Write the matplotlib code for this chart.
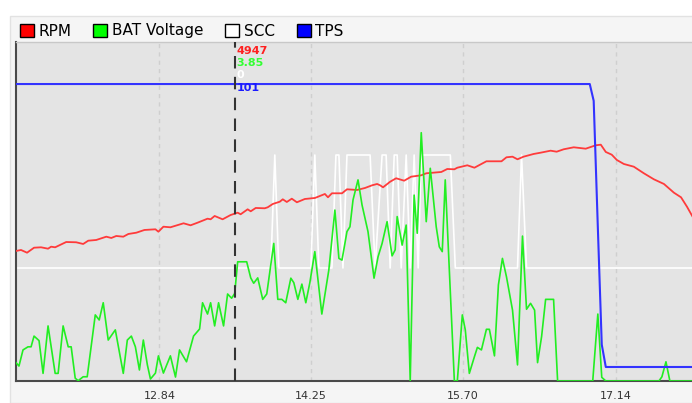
import matplotlib
matplotlib.use("Agg")
import matplotlib.pyplot as plt
from matplotlib.patches import Patch, Rectangle
from matplotlib import transforms

# ---- data (time in s) ----
rpm_t = [11.488, 11.535, 11.592, 11.658, 11.724, 11.790, 11.819, 11.857, 11.961, 12.055,
         12.121, 12.169, 12.244, 12.339, 12.386, 12.433, 12.499, 12.547, 12.622, 12.698,
         12.802, 12.830, 12.877, 12.943, 13.067, 13.133, 13.199, 13.293, 13.322, 13.360,
         13.435, 13.511, 13.577, 13.605, 13.671, 13.700, 13.747, 13.832, 13.860, 13.908,
         13.974, 14.002, 14.040, 14.087, 14.135, 14.210, 14.305, 14.352, 14.399, 14.428,
         14.465, 14.560, 14.607, 14.702, 14.777, 14.844, 14.891, 14.919, 14.947, 15.014,
         15.070, 15.146, 15.212, 15.307, 15.354, 15.496, 15.552, 15.619, 15.647, 15.741,
         15.808, 15.921, 16.063, 16.110, 16.167, 16.214, 16.271, 16.366, 16.432, 16.526,
         16.583, 16.649, 16.744, 16.857, 16.951, 16.999, 17.046, 17.102, 17.150, 17.216,
         17.310, 17.405, 17.499, 17.594, 17.688, 17.755, 17.811, 17.878]
rpm = [3835, 3865, 3785, 3932, 3944, 3903, 3962, 3944, 4100, 4092,
       4042, 4139, 4160, 4257, 4219, 4278, 4257, 4337, 4375, 4455,
       4475, 4404, 4552, 4534, 4652, 4593, 4670, 4788, 4770, 4868,
       4770, 4897, 4965, 4918, 5065, 5006, 5104, 5095, 5124, 5222,
       5289, 5360, 5281, 5378, 5272, 5369, 5399, 5458, 5517, 5419,
       5537, 5537, 5655, 5635, 5694, 5773, 5812, 5773, 5714, 5879,
       5980, 5909, 6027, 6068, 6127, 6166, 6254, 6245, 6292, 6363,
       6292, 6481, 6481, 6599, 6617, 6540, 6617, 6697, 6735, 6794,
       6764, 6835, 6894, 6853, 6953, 6971, 6756, 6676, 6520, 6402,
       6322, 6127, 5950, 5812, 5555, 5419, 5142, 4770]

bat_t = [11.488, 11.516, 11.554, 11.601, 11.630, 11.658, 11.705, 11.743, 11.790, 11.857,
         11.885, 11.932, 11.980, 12.008, 12.046, 12.074, 12.121, 12.159, 12.188, 12.235,
         12.272, 12.310, 12.357, 12.424, 12.499, 12.537, 12.575, 12.613, 12.651, 12.688,
         12.726, 12.755, 12.802, 12.830, 12.877, 12.943, 12.991, 13.029, 13.095, 13.161,
         13.218, 13.246, 13.293, 13.322, 13.360, 13.397, 13.444, 13.482, 13.520, 13.549,
         13.577, 13.662, 13.700, 13.728, 13.766, 13.813, 13.851, 13.917, 13.955, 13.993,
         14.030, 14.078, 14.106, 14.144, 14.182, 14.219, 14.257, 14.304, 14.370, 14.436,
         14.493, 14.531, 14.560, 14.607, 14.635, 14.664, 14.711, 14.749, 14.805, 14.862,
         14.900, 14.938, 14.985, 15.032, 15.061, 15.080, 15.127, 15.165, 15.203, 15.240,
         15.269, 15.307, 15.354, 15.392, 15.448, 15.477, 15.505, 15.533, 15.619, 15.647,
         15.694, 15.722, 15.760, 15.808, 15.836, 15.874, 15.921, 15.949, 15.997, 16.034,
         16.072, 16.110, 16.167, 16.214, 16.261, 16.299, 16.337, 16.375, 16.403, 16.441,
         16.479, 16.554, 16.592, 16.923, 16.971, 17.008, 17.046, 17.547, 17.575, 17.613,
         17.650, 17.878]
bat = [0.65, 0.53, 1.10, 1.21, 1.21, 1.59, 1.43, 0.27, 1.95, 0.27,
       0.27, 1.95, 1.21, 1.21, 0.10, 0.01, 0.15, 0.15, 0.98, 2.34,
       2.16, 2.77, 1.45, 1.81, 0.27, 1.45, 1.59, 1.21, 0.39, 1.45,
       0.57, 0.07, 0.28, 0.89, 0.28, 0.89, 0.14, 1.10, 0.68, 1.59,
       1.84, 2.77, 2.37, 2.77, 1.95, 2.77, 1.95, 3.08, 2.93, 3.10,
       4.22, 4.22, 3.65, 3.46, 3.65, 2.89, 3.08, 4.87, 2.89, 2.89,
       2.77, 3.64, 3.48, 2.89, 3.43, 2.77, 3.48, 4.58, 2.37, 3.93,
       6.05, 4.34, 4.28, 5.29, 5.46, 6.41, 7.12, 6.23, 5.29, 3.64,
       4.40, 4.87, 5.64, 4.43, 4.64, 5.82, 4.81, 5.52, 0.00, 6.58,
       5.23, 8.79, 5.64, 7.53, 5.46, 4.75, 4.58, 7.12, 0.00, 0.00,
       2.34, 1.81, 0.27, 0.86, 1.19, 1.10, 1.83, 1.83, 0.89, 3.40,
       4.34, 3.69, 2.51, 0.57, 5.13, 2.54, 2.75, 2.51, 0.65, 1.57,
       2.89, 2.89, 0.00, 0.00, 2.37, 0.13, 0.00, 0.00, 0.15, 0.68,
       0.00, 0.00]

scc_t = [11.488, 13.889, 13.927, 13.964, 14.267, 14.304, 14.342, 14.465, 14.503, 14.531,
         14.569, 14.607, 14.825, 14.872, 14.938, 14.976, 15.014, 15.052, 15.080, 15.118,
         15.165, 15.203, 15.240, 15.278, 15.307, 15.581, 15.628, 16.214, 16.252, 16.299,
         17.878]
scc = [0, 0, 1, 0, 0, 1, 0, 0, 1, 1,
       0, 1, 1, 0, 1, 1, 0, 1, 1, 0,
       1, 0, 1, 0, 1, 1, 0, 0, 1, 0,
       0]

tps_t = [11.488, 16.895, 16.932, 16.970, 17.008, 17.046, 17.878]
tps = [101, 101, 95, 51, 8, 0, 0]

cursor_t = 13.549
cursor_vals = ["4947", "3.85", "0", "101"]

tick_pos = [12.84, 14.27, 15.70, 17.14]
tick_lbl = ["12.84", "14.25", "15.70", "17.14"]

names = ["RPM", "BAT Voltage", "SCC", "TPS"]
line_cols = ["#ff3b3b", "#22ee22", "#ffffff", "#3333ff"]
text_cols = ["#ff2020", "#33ff33", "#ffffff", "#1a1aff"]
legend_cols = ["#ff0000", "#00ff00", "#ffffff", "#0000ff"]

W, H = 692, 403
fig = plt.figure(figsize=(W / 100, H / 100), dpi=100)
fig.patch.set_facecolor("white")

# light panel behind legend + plot
fig.patches.append(Rectangle((10 / W, 0), 1, (H - 16) / H, transform=fig.transFigure,
                             facecolor="#f5f5f5", edgecolor="#e2e2e2", lw=1, zorder=-5))

# main axes carries the background, grid and the SCC trace (drawn underneath)
ax = fig.add_axes([16 / W, 22 / H, 1 - 16 / W + 0.003, 339 / H])
ax.set_facecolor("#e4e4e4")
ax.set_xlim(11.488, 17.878)
ax.set_ylim(-1, 2)
ax.set_xticks(tick_pos)
ax.set_xticklabels(tick_lbl)
ax.set_yticks([])
ax.tick_params(axis="x", length=0, pad=7, labelsize=8, labelcolor="#333333")
ax.grid(axis="x", color="#cfcfcf", lw=1, ls=(0, (3, 3)))
for s in ["left", "bottom"]:
    ax.spines[s].set_color("#4a4a4a")
    ax.spines[s].set_linewidth(1.5)
ax.spines["top"].set_color("#c8c8c8")
ax.spines["top"].set_linewidth(1)
ax.spines["right"].set_visible(False)
ax.plot(scc_t, scc, color=line_cols[2], lw=1.2)

ax_rpm = ax.twinx()
ax_rpm.set_ylim(0, 10000)
ax_rpm.plot(rpm_t, rpm, color=line_cols[0], lw=1.3)

ax_bat = ax.twinx()
ax_bat.set_ylim(0, 12)
ax_bat.plot(bat_t, bat, color=line_cols[1], lw=1.2)

ax_tps = ax.twinx()
ax_tps.set_ylim(-5, 116)
ax_tps.plot(tps_t, tps, color=line_cols[3], lw=1.5)

for a in (ax_rpm, ax_bat, ax_tps):
    a.set_yticks([])
    for s in a.spines.values():
        s.set_visible(False)

# cursor
ax_tps.axvline(cursor_t, color="#333333", lw=1.5, dashes=(6, 4))
trans = transforms.blended_transform_factory(ax_tps.transData, ax_tps.transAxes)
ypos = [0.973, 0.938, 0.903, 0.865]
for val, col, yy in zip(cursor_vals, text_cols, ypos):
    ax_tps.annotate(val, xy=(cursor_t, yy), xycoords=trans, xytext=(2, 0),
                    textcoords="offset pixels", ha="left", va="center",
                    fontsize=8, fontweight="bold", color=col)

handles = [Patch(facecolor=c, edgecolor="black", lw=1) for c in legend_cols]
fig.legend(handles, names, loc="center left", bbox_to_anchor=(20 / W, 1 - 31 / H),
           ncol=4, frameon=False, fontsize=11, handlelength=0.9, handleheight=0.9,
           handletextpad=0.3, columnspacing=1.45, borderpad=0, borderaxespad=0)

fig.savefig("out.png", dpi=100)
